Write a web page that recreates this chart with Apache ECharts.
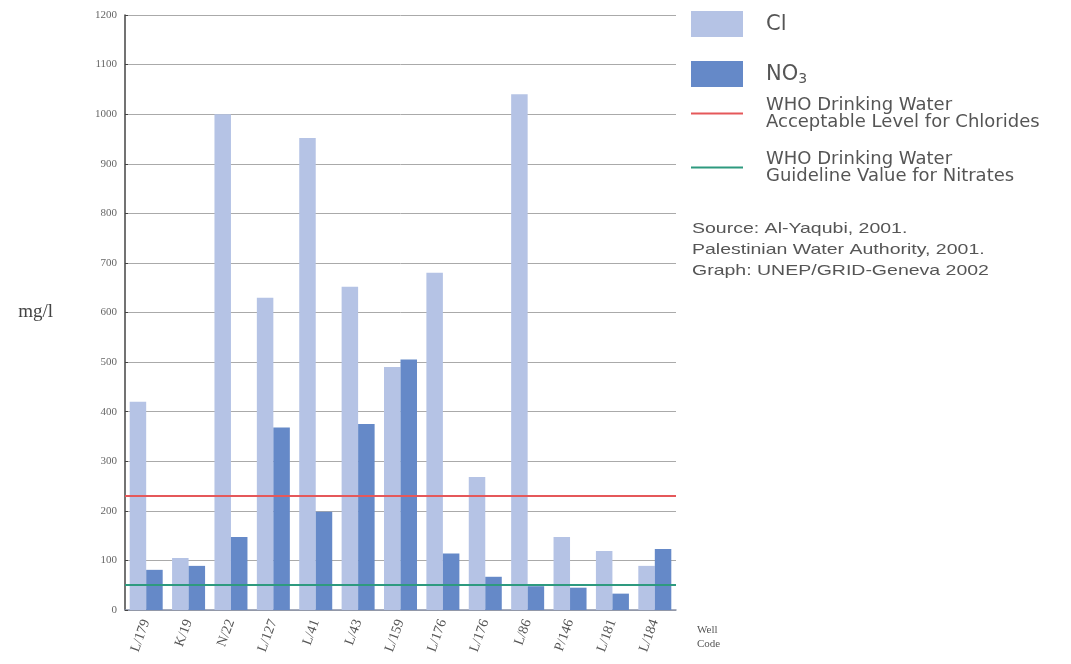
<!DOCTYPE html>
<html><head><meta charset="utf-8">
<script src="https://cdn.jsdelivr.net/npm/echarts@6/dist/echarts.min.js"></script>
<style>html,body{margin:0;padding:0;background:#fff}#c{width:1071px;height:664px}</style>
</head><body><div id="c"></div>
<script>
const categories = ['L/179','K/19','N/22','L/127','L/41','L/43','L/159','L/176','L/176','L/86','P/146','L/181','L/184'];
const clValues  = [420, 105, 1000, 630, 952, 652, 490, 680, 268, 1040, 147, 119, 89];
const no3Values = [81, 89, 147, 368, 198, 375, 505, 114, 67, 48, 45, 33, 123];
const yTicks = [0,100,200,300,400,500,600,700,800,900,1000,1100,1200];
const chlorideLevel = 230;
const nitrateLevel = 50;
const nameCl = 'Cl';
const nameNO3 = 'NO3';
const nameRed = 'WHO Drinking Water\nAcceptable Level for Chlorides';
const nameGreen = 'WHO Drinking Water\nGuideline Value for Nitrates';
const sourceLines = ['Source: Al-Yaqubi, 2001.','Palestinian Water Authority, 2001.','Graph: UNEP/GRID-Geneva 2002'];

const chart = echarts.init(document.getElementById('c'));
const sans = '"DejaVu Sans", sans-serif';
const serif = '"Liberation Serif", "DejaVu Serif", serif';
chart.setOption({
  animation:false,
  backgroundColor:'#fff',
  grid:{left:125,right:395,top:15,bottom:54},
  legend:[{
    data:[nameCl,nameNO3],
    left:691, top:11, orient:'vertical', padding:0,
    itemWidth:52, itemHeight:26, itemGap:24,
    icon:'rect',
    selectedMode:false,
    textStyle:{fontFamily:sans,fontSize:21,color:'#555',padding:[2,0,0,18],
      rich:{a:{fontFamily:sans,fontSize:21,color:'#555'},s:{fontFamily:sans,fontSize:14,color:'#555',padding:[9,0,0,0]}}},
    formatter:function(n){return n===nameNO3?'{a|NO}{s|3}':'{a|'+n+'}';}
  },{
    data:[nameRed,nameGreen],
    left:691, top:96, orient:'vertical', padding:0,
    itemWidth:52, itemHeight:2, itemGap:19,
    icon:'rect',
    selectedMode:false,
    textStyle:{fontFamily:sans,fontSize:18,lineHeight:17,color:'#555',padding:[0,0,0,18]}
  }],
  xAxis:{
    type:'category', data:categories,
    axisLine:{lineStyle:{color:'#8a93a8',width:1.5}},
    axisTick:{show:false},
    axisLabel:{rotate:70,fontFamily:serif,fontSize:14,color:'#555',margin:10,interval:0}
  },
  yAxis:{
    type:'value', min:0, max:1200, interval:100,
    name:'mg/l', nameLocation:'middle', nameRotate:0, nameGap:72,
    nameTextStyle:{fontFamily:serif,fontSize:19,color:'#444',padding:[4,0,0,0]},
    axisLine:{show:true,lineStyle:{color:'#444',width:1.5}},
    axisTick:{show:true,inside:true,length:3,lineStyle:{color:'#444'}},
    axisLabel:{fontFamily:serif,fontSize:11,color:'#666',margin:8,
      formatter:function(v){return yTicks.indexOf(v)>=0?String(v):'';}},
    splitLine:{lineStyle:{color:'#aaa',width:1}}
  },
  series:[
    {name:nameCl,type:'bar',data:clValues,barWidth:16.5,barGap:'0%',
      itemStyle:{color:'#b5c3e5'}},
    {name:nameNO3,type:'bar',data:no3Values,barWidth:16.5,barGap:'0%',
      itemStyle:{color:'#6589c8'}},
    {name:nameRed,type:'line',data:[],itemStyle:{color:'#e5585a'},lineStyle:{color:'#e5585a'},
      markLine:{silent:true,symbol:'none',label:{show:false},lineStyle:{color:'#e5585a',width:2,type:'solid'},data:[{yAxis:chlorideLevel}]}},
    {name:nameGreen,type:'line',data:[],itemStyle:{color:'#2e9a7f'},lineStyle:{color:'#2e9a7f'},
      markLine:{silent:true,symbol:'none',label:{show:false},lineStyle:{color:'#2e9a7f',width:2,type:'solid'},data:[{yAxis:nitrateLevel}]}}
  ],
  graphic:[
    {type:'text',x:692,y:218,scaleX:1.3,style:{text:sourceLines.join('\n'),fontFamily:'"Liberation Sans", Arial, sans-serif',fontSize:15,lineHeight:21,fill:'#555'}},
    {type:'text',left:697,top:623,style:{text:'Well\nCode',fontFamily:serif,fontSize:11,lineHeight:14,fill:'#555'}}
  ]
});
</script></body></html>
